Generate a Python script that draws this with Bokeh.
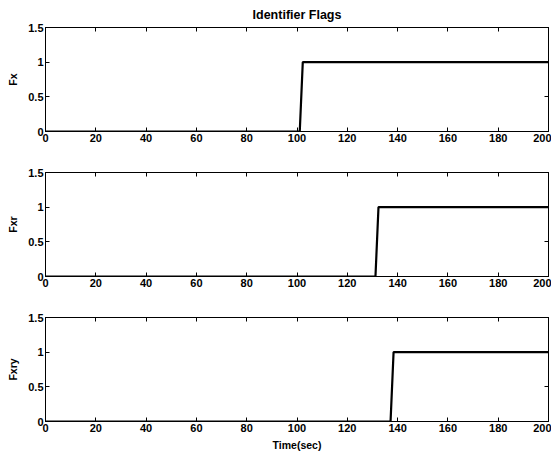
from bokeh.plotting import figure
from bokeh.layouts import column
from bokeh.models import LinearAxis, FixedTicker, CustomJSTickFormatter, Range1d
from bokeh.embed import file_html
from bokeh.resources import INLINE

# Data (step breakpoints)
t_fx = [0, 101.1, 102.3, 200]
fx = [0, 0, 1, 1]
t_fxr = [0, 131.2, 132.4, 200]
fxr = [0, 0, 1, 1]
t_fxry = [0, 137.2, 138.4, 200]
fxry = [0, 0, 1, 1]

x_ticks = [0, 20, 40, 60, 80, 100, 120, 140, 160, 180, 200]
y_ticks = [0, 0.5, 1, 1.5]

FONT = "Liberation Sans"
fmt_code = "return String(tick);"

def style_axis(ax, ticks, show_labels=True):
    ax.ticker = FixedTicker(ticks=ticks)
    ax.major_tick_in = 4
    ax.major_tick_out = 0
    ax.minor_tick_line_color = None
    ax.axis_line_color = "black"
    ax.axis_line_width = 1
    ax.major_tick_line_color = "black"
    ax.axis_label_text_font = FONT
    ax.axis_label_text_font_style = "bold"
    ax.axis_label_text_font_size = "10.5px"
    ax.axis_label_text_color = "black"
    if show_labels:
        ax.formatter = CustomJSTickFormatter(code=fmt_code)
        ax.major_label_text_font = FONT
        ax.major_label_text_font_style = "bold"
        ax.major_label_text_color = "black"
        ax.major_label_text_font_size = "11px"
        ax.major_label_standoff = 2
    else:
        ax.major_label_text_color = None
        ax.major_label_text_font_size = "1px"
        ax.major_label_standoff = 0


def make_fig(t, y, ylabel, title=None, xlabel=None, top=19, bottom=22):
    p = figure(frame_width=503, frame_height=104, output_backend="svg",
               toolbar_location=None, x_range=Range1d(0, 200), y_range=Range1d(0, 1.5),
               min_border_left=45, min_border_right=3, min_border_top=top,
               min_border_bottom=bottom, title=title)
    p.grid.visible = False
    p.outline_line_color = "black"
    p.outline_line_width = 1
    p.background_fill_color = "white"
    p.border_fill_color = "white"
    p.line(t, y, line_color="black", line_width=2.2)
    style_axis(p.xaxis[0], x_ticks)
    style_axis(p.yaxis[0], y_ticks)
    p.yaxis[0].axis_label = ylabel
    p.yaxis[0].axis_label_standoff = 6
    if xlabel:
        p.xaxis[0].axis_label = xlabel
        p.xaxis[0].axis_label_standoff = 4
    ra = LinearAxis()
    style_axis(ra, y_ticks, show_labels=False)
    p.add_layout(ra, "right")
    ta = LinearAxis()
    style_axis(ta, x_ticks, show_labels=False)
    p.add_layout(ta, "above")
    if title:
        p.title.align = "center"
        p.title.text_font = FONT
        p.title.text_font_style = "bold"
        p.title.text_font_size = "12.5px"
        p.title.text_color = "black"
        p.title.offset = 0
        p.title.standoff = 11
    return p

p1 = make_fig(t_fx, fx, "Fx", title="Identifier Flags", top=27, bottom=22)
p2 = make_fig(t_fxr, fxr, "Fxr", top=19, bottom=22)
p3 = make_fig(t_fxry, fxry, "Fxry", xlabel="Time(sec)", top=19, bottom=33)

layout = column(p1, p2, p3, spacing=0)
open("out.html", "w").write(file_html(layout, INLINE))
